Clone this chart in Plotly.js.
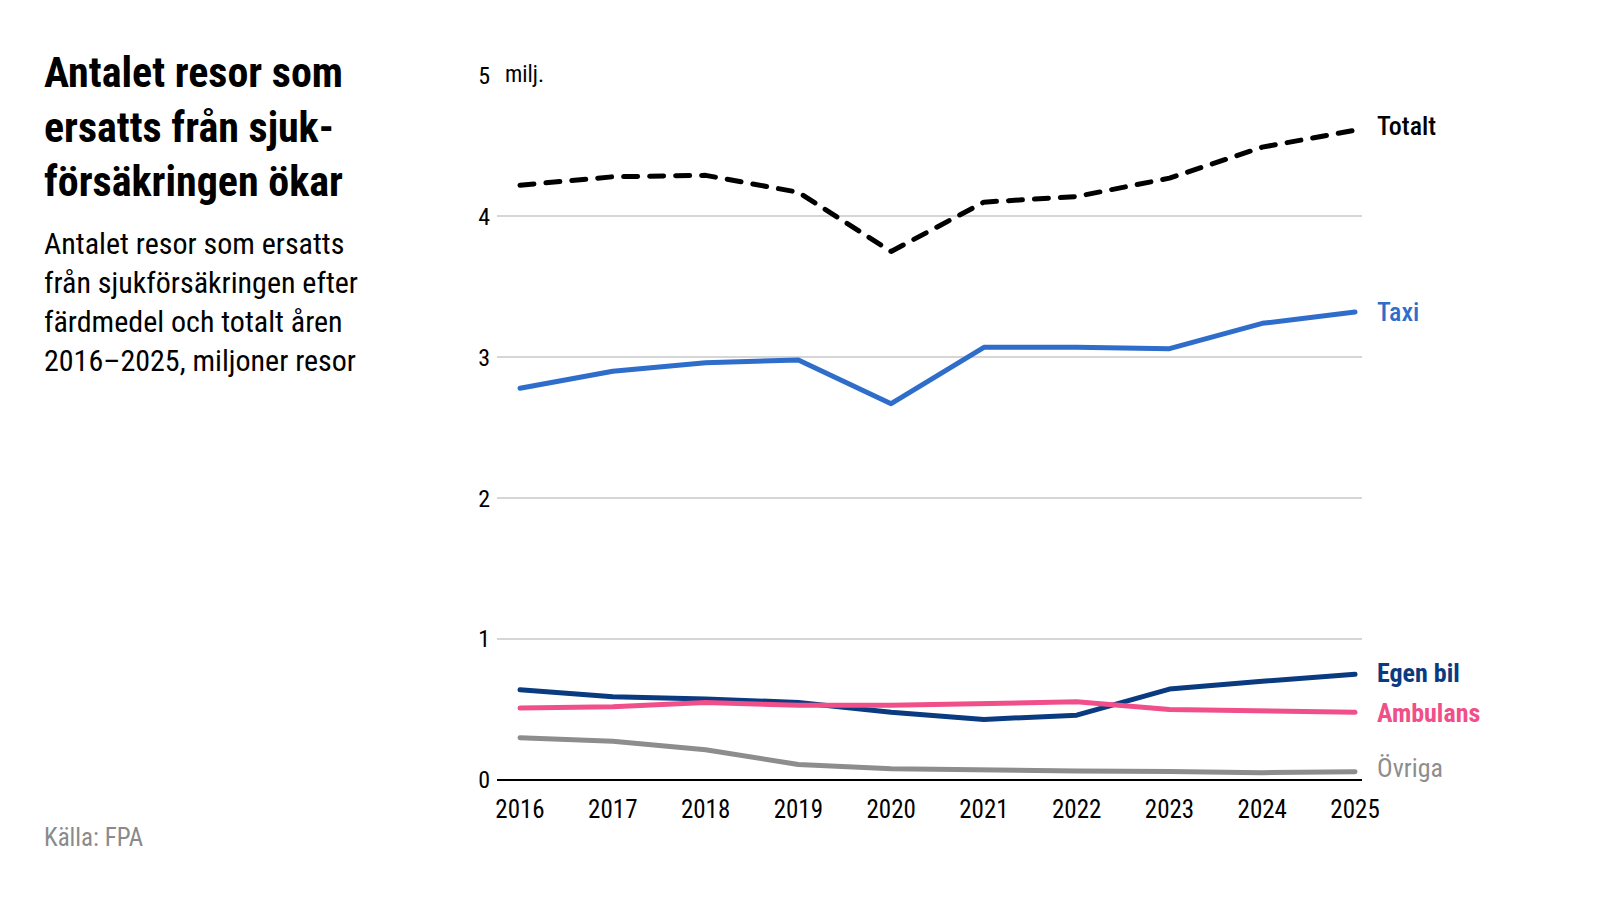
<!DOCTYPE html>
<html>
<head>
<meta charset="utf-8">
<script src="https://cdn.plot.ly/plotly-3.0.1.min.js"></script>
<style>
  html, body { margin: 0; padding: 0; background: #ffffff; }
  #chart { width: 1601px; height: 901px; }
  #chart path.js-line { stroke-linecap: round; stroke-linejoin: round; }
</style>
</head>
<body>
<div id="chart"></div>
<script>
// Values, millions of trips
var years = [2016, 2017, 2018, 2019, 2020, 2021, 2022, 2023, 2024, 2025];
var totalt   = [4.22, 4.28, 4.29, 4.17, 3.75, 4.10, 4.14, 4.27, 4.49, 4.61];
var taxi     = [2.78, 2.90, 2.96, 2.98, 2.67, 3.07, 3.07, 3.06, 3.24, 3.32];
var egenBil  = [0.64, 0.59, 0.575, 0.55, 0.48, 0.43, 0.46, 0.645, 0.70, 0.75];
var ambulans = [0.51, 0.52, 0.55, 0.53, 0.53, 0.54, 0.555, 0.50, 0.49, 0.48];
var ovriga   = [0.30, 0.275, 0.215, 0.11, 0.08, 0.07, 0.063, 0.06, 0.052, 0.058];

var yTicks = [0, 1, 2, 3, 4, 5];
var titleLines = ['Antalet resor som', 'ersatts från sjuk-', 'försäkringen ökar'];
var subtitleLines = ['Antalet resor som ersatts', 'från sjukförsäkringen efter',
                     'färdmedel och totalt åren', '2016–2025, miljoner resor'];
var source = 'Källa: FPA';

var FONT = '"Roboto Condensed", "Liberation Sans Narrow", "DejaVu Sans Condensed", "Noto Sans", sans-serif';
var LEFT = -0.526;

var series = [
  {name: 'Totalt',   y: totalt,   color: '#000000', dash: '14px,12px', weight: 500, yshift: 4},
  {name: 'Taxi',     y: taxi,     color: '#2f6dcb', dash: 'solid',     weight: 500, yshift: 0},
  {name: 'Egen bil', y: egenBil,  color: '#0a3a80', dash: 'solid',     weight: 700, yshift: 1},
  {name: 'Ambulans', y: ambulans, color: '#f04f89', dash: 'solid',     weight: 700, yshift: -1},
  {name: 'Övriga',   y: ovriga,   color: '#8d8d8d', dash: 'solid',     weight: 400, yshift: 4}
];

var traces = series.map(function (s) {
  return {
    x: years, y: s.y, type: 'scatter', mode: 'lines', name: s.name,
    line: {color: s.color, width: 5, dash: s.dash},
    cliponaxis: false, hoverinfo: 'x+y+name'
  };
});

var annotations = [];

// series labels at the line ends
series.forEach(function (s) {
  annotations.push({
    x: years[years.length - 1], y: s.y[s.y.length - 1], xref: 'x', yref: 'y',
    text: s.name, showarrow: false, xanchor: 'left', yanchor: 'middle',
    xshift: 20, yshift: s.yshift,
    font: {family: FONT, size: 26, color: s.color, weight: s.weight}
  });
});

// title and subtitle
annotations.push({
  x: LEFT, y: (780 - 46) / 705, xref: 'paper', yref: 'paper',
  text: titleLines.join('<br>'), showarrow: false,
  xanchor: 'left', yanchor: 'top', align: 'left',
  font: {family: FONT, size: 42, color: '#000000', weight: 700}
});
annotations.push({
  x: LEFT, y: (780 - 224) / 705, xref: 'paper', yref: 'paper',
  text: subtitleLines.join('<br>'), showarrow: false,
  xanchor: 'left', yanchor: 'top', align: 'left',
  font: {family: FONT, size: 30, color: '#000000'}
});

// unit label next to the top tick
annotations.push({
  x: 0.007, y: 5, xref: 'paper', yref: 'y', text: 'milj.', showarrow: false,
  xanchor: 'left', yanchor: 'middle', yshift: 1,
  font: {family: FONT, size: 23, color: '#000000'}
});

annotations.push({
  x: LEFT, y: (780 - 838) / 705, xref: 'paper', yref: 'paper', text: source,
  showarrow: false, xanchor: 'left', yanchor: 'middle',
  font: {family: FONT, size: 25, color: '#8a8a8a'}
});

var layout = {
  width: 1601, height: 901,
  margin: {l: 497, r: 239, t: 75, b: 121},
  paper_bgcolor: '#ffffff', plot_bgcolor: '#ffffff',
  showlegend: false,
  font: {family: FONT, size: 26, color: '#000000'},
  xaxis: {
    range: [2015.752, 2025.075], tickvals: years, ticktext: years.map(String),
    showgrid: false, zeroline: false, showline: false,
    ticks: '', ticklabelstandoff: 12,
    tickfont: {family: FONT, size: 25, color: '#000000'}
  },
  yaxis: {
    range: [0, 5.002], tickvals: yTicks, ticktext: yTicks.map(String),
    showgrid: true, gridcolor: '#d6d6d6', gridwidth: 1.5,
    zeroline: true, zerolinecolor: '#000000', zerolinewidth: 2.5,
    showline: false, ticks: '', ticklabelstandoff: 6,
    tickfont: {family: FONT, size: 24, color: '#000000'}
  },
  shapes: [
    // gap in the top gridline for the unit label
    {type: 'rect', xref: 'paper', yref: 'y', x0: -0.01, x1: 0.078, y0: 4.97, y1: 5.03,
     fillcolor: '#ffffff', line: {width: 0}, layer: 'between'}
  ],
  annotations: annotations
};

Plotly.newPlot('chart', traces, layout, {displayModeBar: false, staticPlot: true});
</script>
</body>
</html>
